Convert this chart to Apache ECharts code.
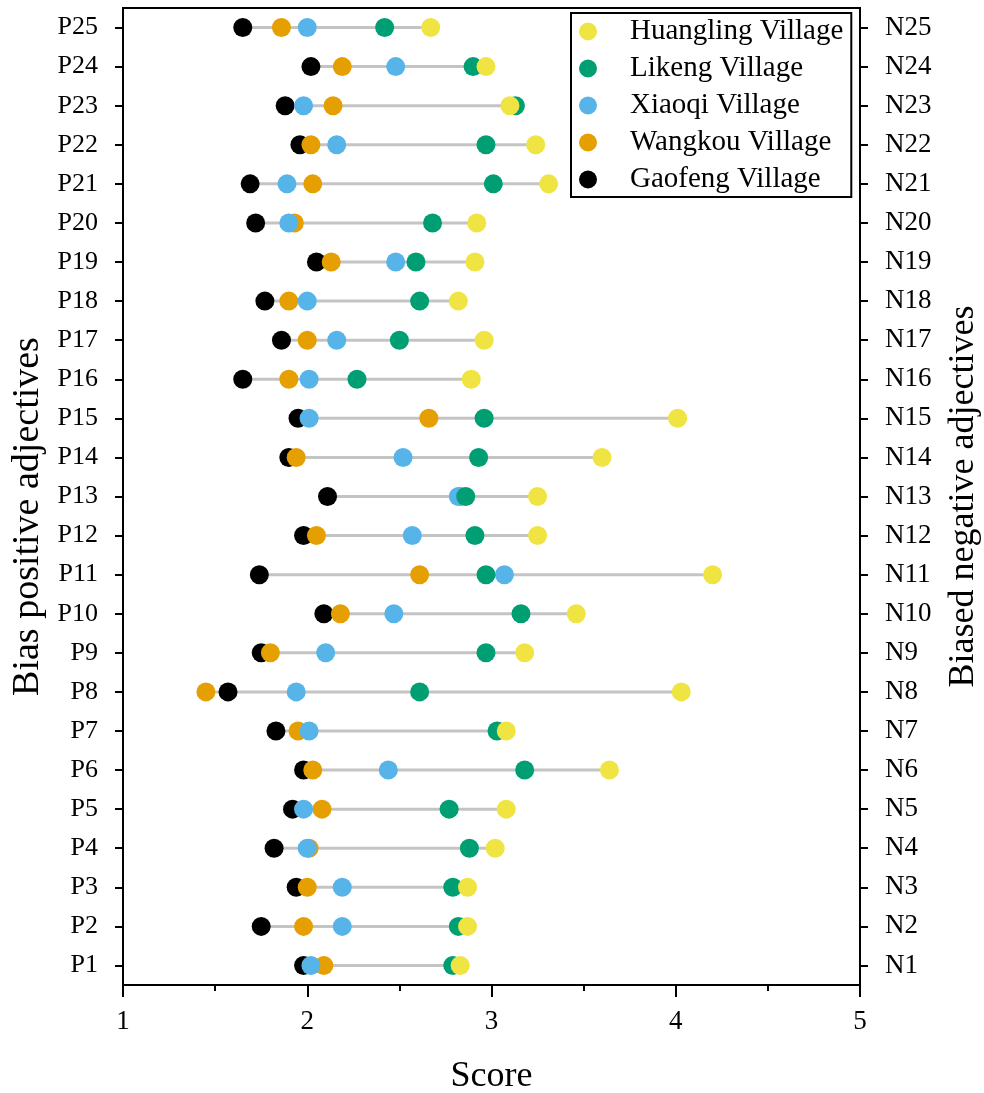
<!DOCTYPE html>
<html>
<head>
<meta charset="utf-8">
<script src="https://cdn.jsdelivr.net/npm/echarts@6/dist/echarts.min.js"></script>
<style>html,body{margin:0;padding:0;background:#fff}#c{width:984px;height:1093px}</style>
</head>
<body>
<div id="c"></div>
<script>
const categories = ['P1','P2','P3','P4','P5','P6','P7','P8','P9','P10','P11','P12','P13','P14','P15','P16','P17','P18','P19','P20','P21','P22','P23','P24','P25'];
const rightLabels = ['N1','N2','N3','N4','N5','N6','N7','N8','N9','N10','N11','N12','N13','N14','N15','N16','N17','N18','N19','N20','N21','N22','N23','N24','N25'];
const gaofeng   = [1.98,1.75,1.94,1.82,1.92,1.98,1.83,1.57,1.75,2.09,1.74,1.98,2.11,1.90,1.95,1.65,1.86,1.77,2.05,1.72,1.69,1.96,1.88,2.02,1.65];
const wangkou   = [2.09,1.98,2.00,2.01,2.08,2.03,1.95,1.45,1.80,2.18,2.61,2.05,2.83,1.94,2.66,1.90,2.00,1.90,2.13,1.93,2.03,2.02,2.14,2.19,1.86];
const xiaoqi    = [2.02,2.19,2.19,2.00,1.98,2.44,2.01,1.94,2.10,2.47,3.07,2.57,2.82,2.52,2.01,2.01,2.16,2.00,2.48,1.90,1.89,2.16,1.98,2.48,2.00];
const likeng    = [2.79,2.82,2.79,2.88,2.77,3.18,3.03,2.61,2.97,3.16,2.97,2.91,2.86,2.93,2.96,2.27,2.50,2.61,2.59,2.68,3.01,2.97,3.13,2.90,2.42];
const huangling = [2.83,2.87,2.87,3.02,3.08,3.64,3.08,4.03,3.18,3.46,4.20,3.25,3.25,3.60,4.01,2.89,2.96,2.82,2.91,2.92,3.31,3.24,3.10,2.97,2.67];
const xTicks = [1,2,3,4,5];

const FONT = 'Liberation Serif';
const groups = [
  {name:'Gaofeng Village', color:'#000000', data:gaofeng},
  {name:'Wangkou Village', color:'#E69F00', data:wangkou},
  {name:'Xiaoqi Village', color:'#56B4E9', data:xiaoqi},
  {name:'Likeng Village', color:'#009E73', data:likeng},
  {name:'Huangling Village', color:'#F0E442', data:huangling}
];
const rangeData = categories.map((c,i)=>{
  const vals = groups.map(g=>g.data[i]);
  return [Math.min(...vals), Math.max(...vals), i];
});

const chart = echarts.init(document.getElementById('c'));
const series = [{
  type:'custom',
  z:1,
  silent:true,
  renderItem:function(params, api){
    const y = api.value(2);
    const a = api.coord([api.value(0), y]);
    const b = api.coord([api.value(1), y]);
    return {type:'line', shape:{x1:a[0],y1:a[1],x2:b[0],y2:b[1]}, style:{stroke:'#c4c4c4', lineWidth:3}};
  },
  encode:{x:[0,1], y:2},
  data:rangeData
}];
groups.forEach(g=>{
  series.push({
    type:'scatter', name:g.name, z:2,
    symbol:'circle', symbolSize:19,
    itemStyle:{color:g.color, opacity:1},
    data:g.data.map((v,i)=>[v,i])
  });
});

chart.setOption({
  animation:false,
  backgroundColor:'#fff',
  textStyle:{fontFamily:FONT},
  grid:{left:123, right:124, top:8, bottom:108, show:true, borderColor:'#000', borderWidth:2,
        containLabel:false, outerBoundsMode:'none'},
  legend:{
    orient:'vertical', left:571, top:13,
    data:['Huangling Village','Likeng Village','Xiaoqi Village','Wangkou Village','Gaofeng Village'],
    icon:'circle', itemWidth:18, itemHeight:18, itemGap:8,
    padding:[4,8,3,8],
    borderColor:'#000', borderWidth:2, backgroundColor:'#fff',
    textStyle:{fontFamily:FONT, fontSize:29, lineHeight:29, color:'#000', padding:[0,0,0,28]}
  },
  xAxis:{
    type:'value', min:1, max:5, interval:1,
    name:'Score', nameLocation:'middle', nameGap:74,
    nameTextStyle:{fontFamily:FONT, fontSize:36, color:'#000'},
    axisLine:{show:true, lineStyle:{color:'#000', width:2}},
    axisTick:{show:true, length:12, lineStyle:{color:'#000', width:2}},
    minorTick:{show:true, splitNumber:2, length:6, lineStyle:{color:'#000', width:2}},
    splitLine:{show:false},
    axisLabel:{fontFamily:FONT, fontSize:27, color:'#000', margin:23,
      formatter:function(v){return xTicks.indexOf(v)>=0 ? String(v) : '';}}
  },
  yAxis:[{
    type:'category', data:categories, position:'left',
    boundaryGap:['2.2%','2.2%'],
    name:'Bias positive adjectives', nameLocation:'middle', nameGap:74, nameRotate:90,
    nameTextStyle:{fontFamily:FONT, fontSize:38, color:'#000', padding:[0,40,0,0]},
    axisLine:{show:true, lineStyle:{color:'#000', width:2}},
    axisTick:{show:true, alignWithLabel:true, length:8, lineStyle:{color:'#000', width:2}},
    axisLabel:{fontFamily:FONT, fontSize:26, color:'#000', margin:25},
    splitLine:{show:false}
  },{
    type:'category', data:rightLabels, position:'right',
    boundaryGap:['2.2%','2.2%'],
    name:'Biased negative adjectives', nameLocation:'middle', nameGap:86, nameRotate:90,
    nameTextStyle:{fontFamily:FONT, fontSize:36, color:'#000'},
    axisLine:{show:true, lineStyle:{color:'#000', width:2}},
    axisTick:{show:true, alignWithLabel:true, length:8, lineStyle:{color:'#000', width:2}},
    axisLabel:{fontFamily:FONT, fontSize:27, color:'#000', margin:25},
    splitLine:{show:false}
  }],
  series:series
});
</script>
</body>
</html>
